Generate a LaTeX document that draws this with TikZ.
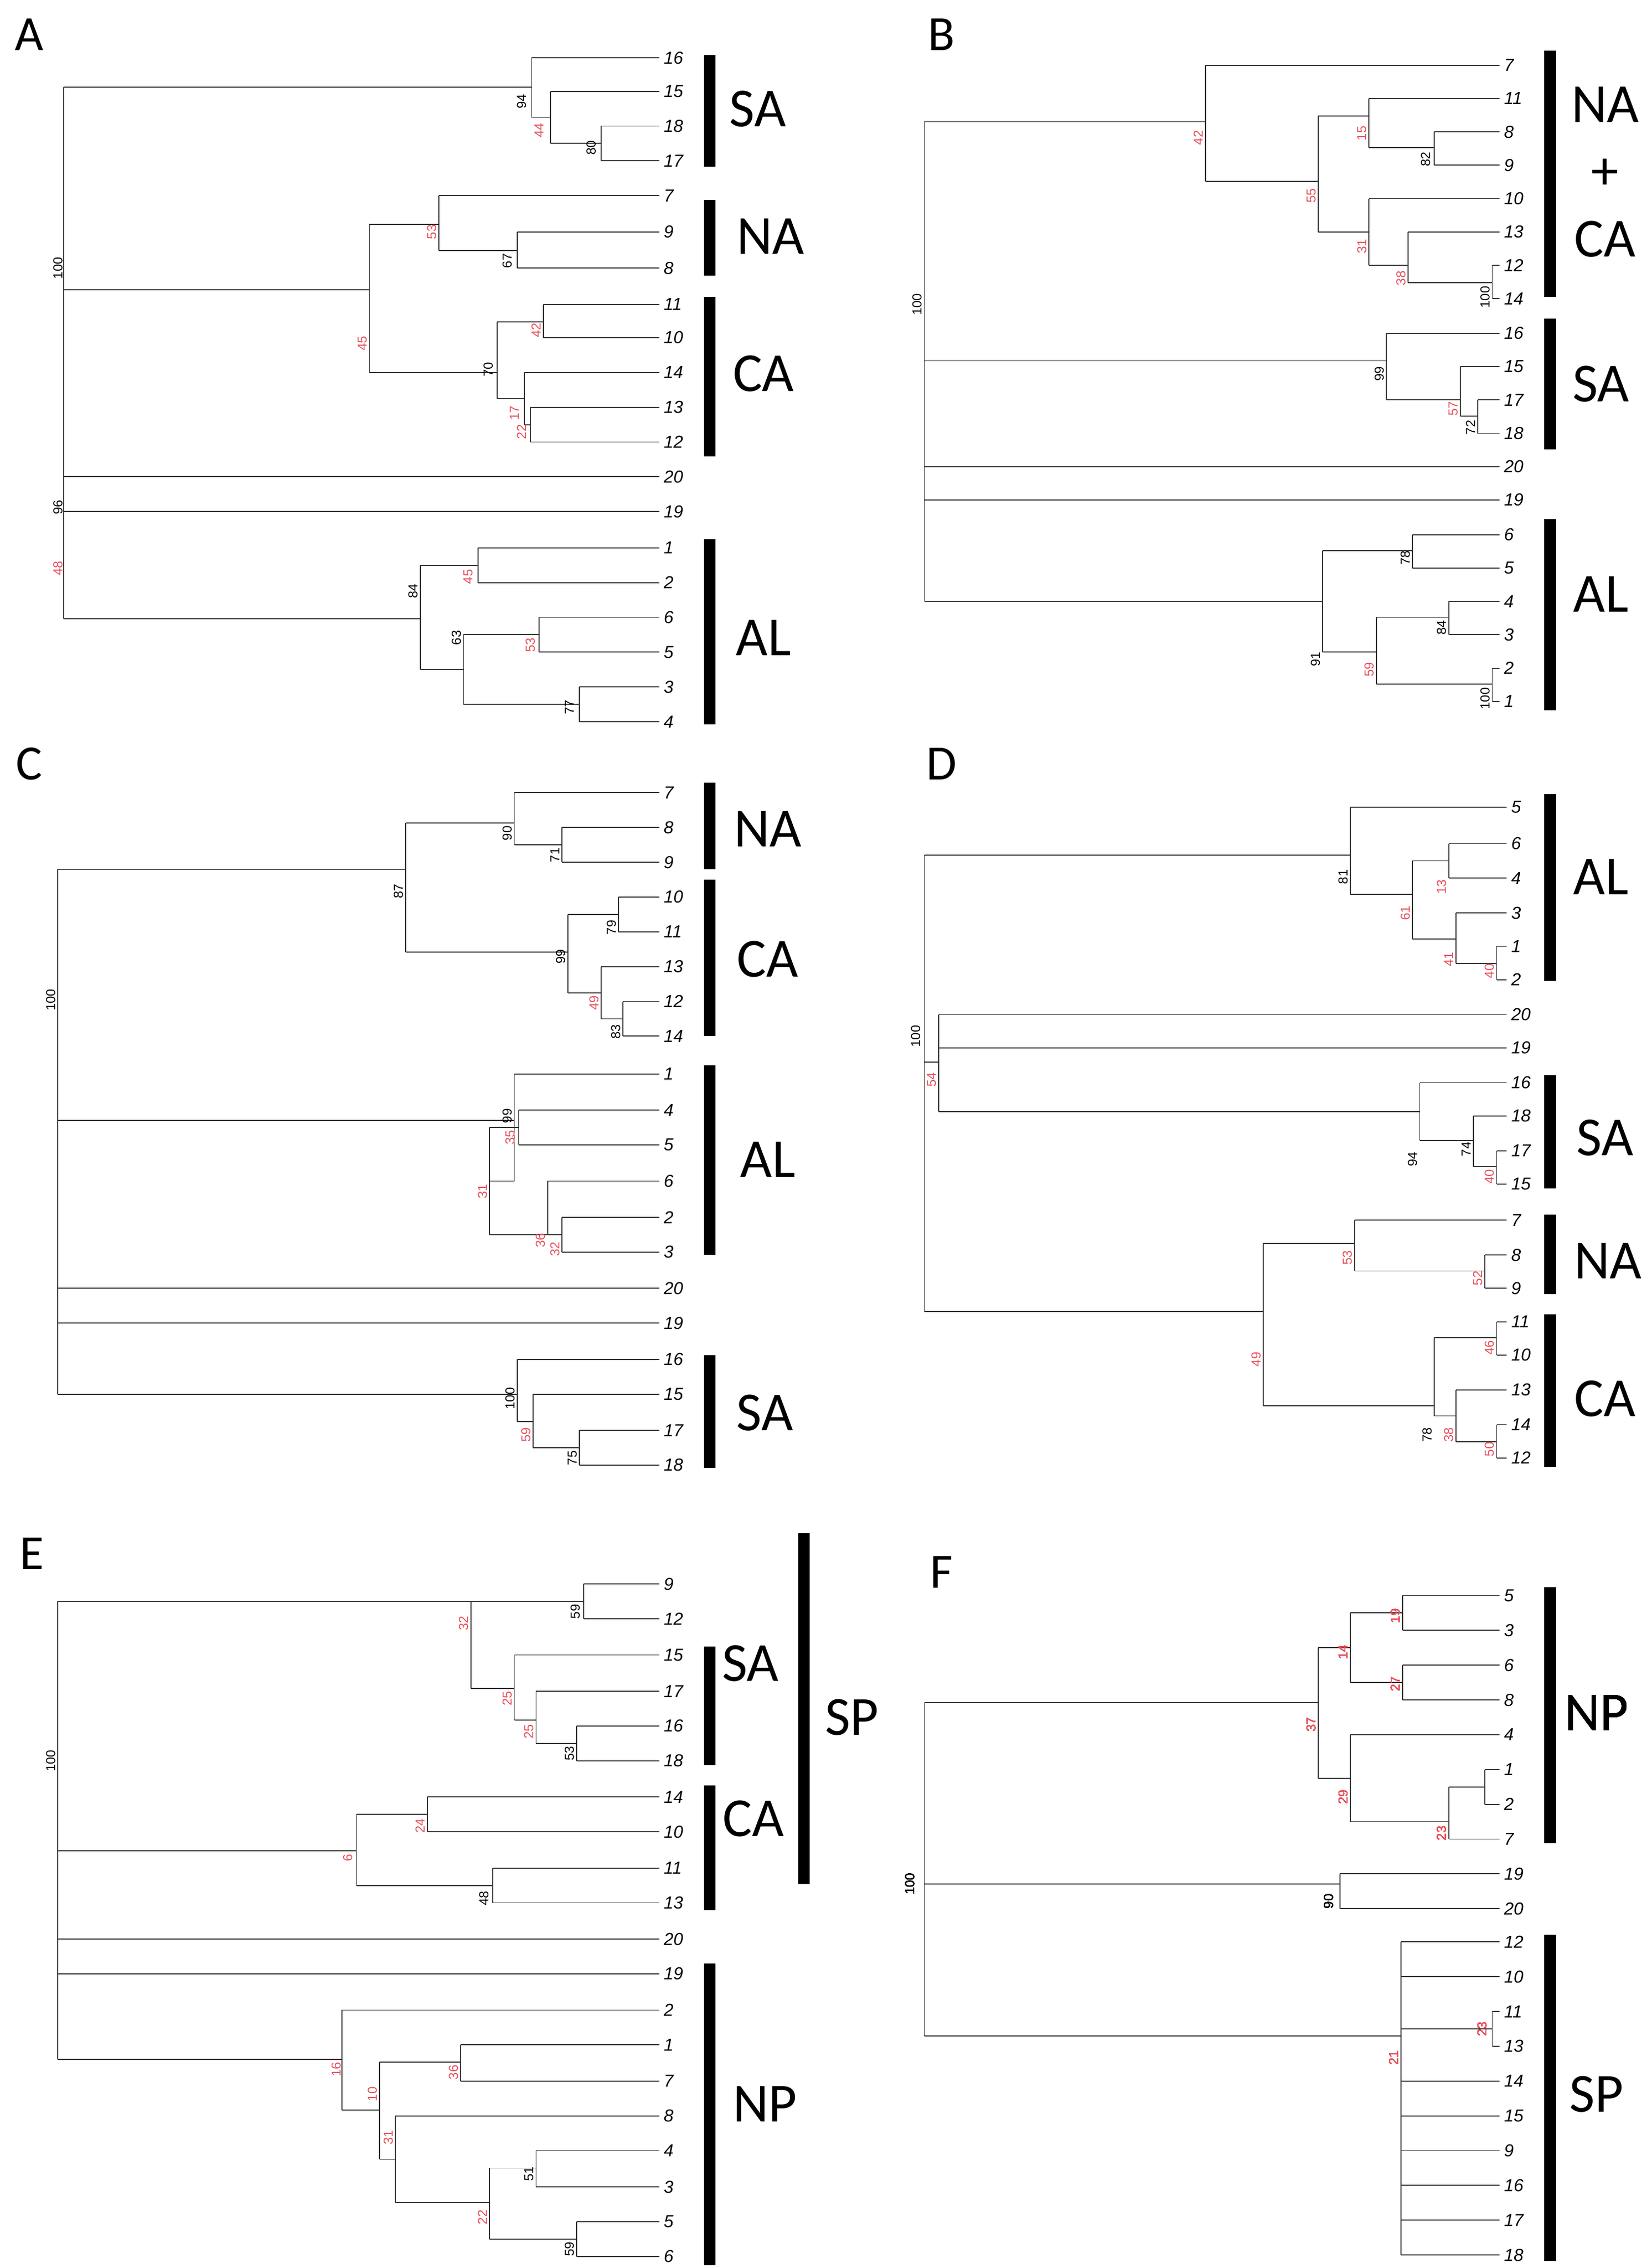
\documentclass[tikz,border=0pt]{standalone}
\usepackage{fontspec}
\setmainfont{Carlito}
\newfontfamily\arl{Liberation Sans}
\definecolor{supRed}{RGB}{232, 80, 90}
\newcommand\vl[3]{\draw[br] (#1,#2) -- (#1,#3);}
\newcommand\hl[3]{\draw[br] (#1,#3) -- (#2,#3);}
\newcommand\bsb[3]{\node[bs] at (#1,#2) {#3};}
\newcommand\bsr[3]{\node[bs, supRed] at (#1,#2) {#3};}
\newcommand\cbar[3]{\fill (#1-4,#2) rectangle (#1+4,#3);}
\tikzset{
  br/.style={line width=0.7pt, gray!40!black},
  leaf/.style={anchor=west, inner sep=1pt, font=\arl\itshape\fontsize{12}{12}\selectfont},
  bs/.style={rotate=90, inner sep=0.5pt, font=\arl\fontsize{9}{9}\selectfont},
  grp/.style={font=\fontsize{38}{38}\selectfont},
  panel/.style={font=\fontsize{34}{34}\selectfont}
}
\begin{document}
\begin{tikzpicture}[x=1pt, y=-1pt]
\useasboundingbox (0,0) rectangle (1140,1565);

\node[panel] (pA) at (20,24) {A};
\node[panel] (pB) at (650,24) {B};
\node[panel] (pC) at (20,527) {C};
\node[panel] (pD) at (650,527) {D};
\node[panel] (pE) at (22,1072) {E};
\node[panel] (pF) at (650,1085) {F};

%%% A
\foreach \y/\l in {40/16,63/15,87/18,111/17,135/7,160/9,185/8,210/11,233/10,257/14,281/13,305/12,329/20,353/19,378/1,402/2,426/6,450/5,474/3,498/4}
  \node[leaf] (a\l) at (457,\y) {\l};
\vl{44}{60}{427} \hl{44}{367}{60} \hl{44}{255}{200} \hl{44}{455}{329} \hl{44}{455}{353} \hl{44}{290}{427}
\vl{367}{40}{81} \hl{367}{455}{40} \hl{367}{380}{81}
\vl{380}{63}{99} \hl{380}{455}{63} \hl{380}{415}{99}
\vl{415}{87}{111} \hl{415}{455}{87} \hl{415}{455}{111}
\vl{255}{155}{257} \hl{255}{303}{155} \hl{255}{343}{257}
\vl{303}{135}{173} \hl{303}{455}{135} \hl{303}{357}{173}
\vl{357}{160}{185} \hl{357}{455}{160} \hl{357}{455}{185}
\vl{343}{222}{275} \hl{343}{375}{222} \hl{343}{362}{275}
\vl{375}{210}{233} \hl{375}{455}{210} \hl{375}{455}{233}
\vl{362}{257}{293} \hl{362}{455}{257} \hl{362}{366}{293}
\vl{366}{281}{305} \hl{366}{455}{281} \hl{366}{455}{305}
\vl{290}{390}{462} \hl{290}{330}{390} \hl{290}{320}{462}
\vl{330}{378}{402} \hl{330}{455}{378} \hl{330}{455}{402}
\vl{320}{438}{486} \hl{320}{372}{438} \hl{320}{400}{486}
\vl{372}{426}{450} \hl{372}{455}{426} \hl{372}{455}{450}
\vl{400}{474}{498} \hl{400}{455}{474} \hl{400}{455}{498}
\bsb{360}{70}{94} \bsr{372}{90}{44} \bsb{408}{102}{80} \bsr{298}{160}{53} \bsb{350}{180}{67}
\bsr{250}{237}{45} \bsr{370}{228}{42} \bsb{337}{255}{70} \bsr{355}{285}{17} \bsr{360}{298}{22}
\bsb{40}{185}{100} \bsb{40}{350}{96} \bsr{40}{392}{48} \bsr{323}{398}{45} \bsb{285}{408}{84}
\bsr{366}{445}{53} \bsb{315}{440}{63} \bsb{393}{488}{77}
\cbar{490}{38}{115} \cbar{490}{138}{190} \cbar{490}{205}{315} \cbar{490}{372}{500}
\node[grp] (gASA) at (523,75) {SA};
\node[grp] (gANA) at (532,163) {NA};
\node[grp] (gACA) at (527,258) {CA};
\node[grp] (gAAL) at (527,440) {AL};

%%% B
\foreach \y/\l in {45/7,68/11,91/8,114/9,137/10,160/13,183/12,206/14,230/16,253/15,276/17,299/18,322/20,345/19,369/6,392/5,415/4,438/3,461/2,484/1}
  \node[leaf] (b\l) at (1037,\y) {\l};
\vl{638}{84}{415} \hl{638}{832}{84} \hl{638}{957}{249} \hl{638}{1035}{322} \hl{638}{1035}{345} \hl{638}{913}{415}
\vl{832}{45}{125} \hl{832}{1035}{45} \hl{832}{910}{125}
\vl{910}{80}{160} \hl{910}{945}{80} \hl{910}{945}{160}
\vl{945}{68}{102} \hl{945}{1035}{68} \hl{945}{990}{102}
\vl{990}{91}{114} \hl{990}{1035}{91} \hl{990}{1035}{114}
\vl{945}{137}{183} \hl{945}{1035}{137} \hl{945}{972}{183}
\vl{972}{160}{195} \hl{972}{1035}{160} \hl{972}{1030}{195}
\vl{1030}{183}{206} \hl{1030}{1035}{183} \hl{1030}{1035}{206}
\vl{957}{230}{276} \hl{957}{1035}{230} \hl{957}{1008}{276}
\vl{1008}{253}{287} \hl{1008}{1035}{253} \hl{1008}{1020}{287}
\vl{1020}{276}{299} \hl{1020}{1035}{276} \hl{1020}{1035}{299}
\vl{913}{380}{450} \hl{913}{975}{380} \hl{913}{950}{450}
\vl{975}{369}{392} \hl{975}{1035}{369} \hl{975}{1035}{392}
\vl{950}{426}{472} \hl{950}{1000}{426} \hl{950}{1030}{472}
\vl{1000}{415}{438} \hl{1000}{1035}{415} \hl{1000}{1035}{438}
\vl{1030}{461}{484} \hl{1030}{1035}{461} \hl{1030}{1035}{484}
\bsr{827}{95}{42} \bsr{905}{135}{55} \bsr{940}{92}{15} \bsb{984}{110}{82} \bsr{940}{170}{31}
\bsr{967}{192}{38} \bsb{1025}{205}{100} \bsb{952}{258}{99} \bsr{1003}{282}{57} \bsb{1015}{295}{72}
\bsb{970}{385}{78} \bsb{995}{433}{84} \bsb{908}{455}{91} \bsr{945}{462}{59} \bsb{1025}{482}{100}
\bsb{633}{210}{100}
\cbar{1070}{35}{205} \cbar{1070}{220}{310} \cbar{1070}{358}{490}
\node[grp] (gBNA) at (1108,72) {NA};
\node[grp] (gBp) at (1108,120) {+};
\node[grp] (gBCA) at (1108,165) {CA};
\node[grp] (gBSA) at (1105,265) {SA};
\node[grp] (gBAL) at (1105,410) {AL};

%%% C
\foreach \y/\l in {547/7,571/8,595/9,619/10,643/11,667/13,691/12,715/14,741/1,766/4,790/5,815/6,840/2,864/3,889/20,913/19,938/16,962/15,987/17,1011/18}
  \node[leaf] (c\l) at (457,\y) {\l};
\vl{40}{600}{962} \hl{40}{280}{600} \hl{40}{355}{773} \hl{40}{455}{889} \hl{40}{455}{913} \hl{40}{357}{962}
\vl{280}{568}{657} \hl{280}{355}{568} \hl{280}{392}{657}
\vl{355}{547}{583} \hl{355}{455}{547} \hl{355}{388}{583}
\vl{388}{571}{595} \hl{388}{455}{571} \hl{388}{455}{595}
\vl{392}{631}{685} \hl{392}{427}{631} \hl{392}{415}{685}
\vl{427}{619}{643} \hl{427}{455}{619} \hl{427}{455}{643}
\vl{415}{667}{703} \hl{415}{455}{667} \hl{415}{430}{703}
\vl{430}{691}{715} \hl{430}{455}{691} \hl{430}{455}{715}
\vl{355}{741}{815} \hl{355}{455}{741} \hl{355}{338}{815}
\vl{338}{778}{852} \hl{338}{358}{778} \hl{338}{378}{852}
\vl{358}{766}{790} \hl{358}{455}{766} \hl{358}{455}{790}
\vl{378}{815}{852} \hl{378}{455}{815} \hl{378}{388}{852}
\vl{388}{840}{864} \hl{388}{455}{840} \hl{388}{455}{864}
\vl{357}{938}{981} \hl{357}{455}{938} \hl{357}{368}{981}
\vl{368}{962}{999} \hl{368}{455}{962} \hl{368}{400}{999}
\vl{400}{987}{1011} \hl{400}{455}{987} \hl{400}{455}{1011}
\bsb{275}{615}{87} \bsb{350}{575}{90} \bsb{383}{590}{71} \bsb{422}{640}{79} \bsb{387}{660}{99}
\bsr{410}{692}{49} \bsb{425}{712}{83} \bsb{350}{770}{99} \bsr{352}{785}{35} \bsr{333}{822}{31}
\bsr{373}{856}{36} \bsr{383}{862}{32} \bsb{35}{690}{100} \bsb{352}{965}{100} \bsr{363}{990}{59}
\bsb{395}{1006}{75}
\cbar{490}{540}{600} \cbar{490}{607}{715} \cbar{490}{735}{866} \cbar{490}{935}{1013}
\node[grp] (gCNA) at (530,572) {NA};
\node[grp] (gCCA) at (530,662) {CA};
\node[grp] (gCAL) at (530,800) {AL};
\node[grp] (gCSA) at (528,975) {SA};

%%% D
\foreach \y/\l in {557/5,582/6,606/4,630/3,653/1,676/2,700/20,723/19,747/16,770/18,794/17,817/15,842/7,866/8,889/9,912/11,935/10,959/13,983/14,1006/12}
  \node[leaf] (d\l) at (1042,\y) {\l};
\vl{638}{590}{905} \hl{638}{932}{590} \hl{638}{648}{733} \hl{638}{872}{905}
\vl{648}{700}{767} \hl{648}{1040}{700} \hl{648}{1040}{723} \hl{648}{980}{767}
\vl{932}{557}{617} \hl{932}{1040}{557} \hl{932}{975}{617}
\vl{975}{594}{648} \hl{975}{1000}{594} \hl{975}{1005}{648}
\vl{1000}{582}{606} \hl{1000}{1040}{582} \hl{1000}{1040}{606}
\vl{1005}{630}{665} \hl{1005}{1040}{630} \hl{1005}{1033}{665}
\vl{1033}{653}{676} \hl{1033}{1040}{653} \hl{1033}{1040}{676}
\vl{980}{747}{787} \hl{980}{1040}{747} \hl{980}{1017}{787}
\vl{1017}{770}{805} \hl{1017}{1040}{770} \hl{1017}{1033}{805}
\vl{1033}{794}{817} \hl{1033}{1040}{794} \hl{1033}{1040}{817}
\vl{872}{858}{970} \hl{872}{935}{858} \hl{872}{990}{970}
\vl{935}{842}{877} \hl{935}{1040}{842} \hl{935}{1025}{877}
\vl{1025}{866}{889} \hl{1025}{1040}{866} \hl{1025}{1040}{889}
\vl{990}{923}{977} \hl{990}{1033}{923} \hl{990}{1005}{977}
\vl{1033}{912}{935} \hl{1033}{1040}{912} \hl{1033}{1040}{935}
\vl{1005}{959}{995} \hl{1005}{1040}{959} \hl{1005}{1033}{995}
\vl{1033}{983}{1006} \hl{1033}{1040}{983} \hl{1033}{1040}{1006}
\bsb{927}{605}{81} \bsr{970}{630}{61} \bsr{995}{612}{13} \bsr{1000}{662}{41} \bsr{1028}{670}{40}
\bsb{632}{715}{100} \bsr{643}{745}{54} \bsb{975}{800}{94} \bsb{1012}{793}{74} \bsr{1028}{812}{40}
\bsr{930}{868}{53} \bsr{1020}{882}{52} \bsr{867}{938}{49} \bsr{1028}{930}{46} \bsb{985}{990}{78}
\bsr{1000}{990}{38} \bsr{1028}{1000}{50}
\cbar{1070}{548}{677} \cbar{1070}{742}{820} \cbar{1070}{838}{893} \cbar{1070}{907}{1012}
\node[grp] (gDAL) at (1105,605) {AL};
\node[grp] (gDSA) at (1108,785) {SA};
\node[grp] (gDNA) at (1110,870) {NA};
\node[grp] (gDCA) at (1108,965) {CA};

%%% E
\foreach \y/\l in {1093/9,1117/12,1142/15,1167/17,1191/16,1215/18,1240/14,1264/10,1289/11,1313/13,1338/20,1362/19,1387/2,1411/1,1436/7,1460/8,1484/4,1509/3,1533/5,1557/6}
  \node[leaf] (e\l) at (457,\y) {\l};
\vl{40}{1105}{1421} \hl{40}{403}{1105} \hl{40}{246}{1277} \hl{40}{455}{1338} \hl{40}{455}{1362} \hl{40}{236}{1421}
\vl{325}{1105}{1165} \hl{325}{355}{1165}
\vl{403}{1093}{1117} \hl{403}{455}{1093} \hl{403}{455}{1117}
\vl{355}{1142}{1187} \hl{355}{455}{1142} \hl{355}{370}{1187}
\vl{370}{1167}{1203} \hl{370}{455}{1167} \hl{370}{398}{1203}
\vl{398}{1191}{1215} \hl{398}{455}{1191} \hl{398}{455}{1215}
\vl{246}{1252}{1301} \hl{246}{295}{1252} \hl{246}{340}{1301}
\vl{295}{1240}{1264} \hl{295}{455}{1240} \hl{295}{455}{1264}
\vl{340}{1289}{1313} \hl{340}{455}{1289} \hl{340}{455}{1313}
\vl{236}{1387}{1456} \hl{236}{455}{1387} \hl{236}{262}{1456}
\vl{262}{1423}{1490} \hl{262}{318}{1423} \hl{262}{273}{1490}
\vl{318}{1411}{1436} \hl{318}{455}{1411} \hl{318}{455}{1436}
\vl{273}{1460}{1520} \hl{273}{455}{1460} \hl{273}{338}{1520}
\vl{338}{1496}{1545} \hl{338}{370}{1496} \hl{338}{398}{1545}
\vl{370}{1484}{1509} \hl{370}{455}{1484} \hl{370}{455}{1509}
\vl{398}{1533}{1557} \hl{398}{455}{1533} \hl{398}{455}{1557}
\bsr{320}{1120}{32} \bsb{397}{1112}{59} \bsr{350}{1172}{25} \bsr{365}{1195}{25} \bsb{393}{1210}{53}
\bsb{35}{1215}{100} \bsr{290}{1260}{24} \bsr{240}{1282}{6} \bsb{334}{1310}{48} \bsr{232}{1428}{16}
\bsr{313}{1430}{36} \bsr{257}{1445}{10} \bsr{268}{1475}{31} \bsr{333}{1530}{22} \bsb{365}{1500}{51}
\bsb{393}{1552}{59}
\cbar{490}{1136}{1218} \cbar{490}{1232}{1318} \cbar{555}{1058}{1300} \cbar{490}{1355}{1563}
\node[grp] (gESA) at (518,1148) {SA};
\node[grp] (gECA) at (520,1255) {CA};
\node[grp] (gESP) at (588,1185) {SP};
\node[grp] (gENP) at (528,1452) {NP};

%%% F
\foreach \y/\l in {1101/5,1125/3,1149/6,1173/8,1197/4,1221/1,1245/2,1269/7,1293/19,1317/20,1340/12,1364/10,1388/11,1412/13,1436/14,1460/15,1484/9,1508/16,1532/17,1556/18}
  \node[leaf] (f\l) at (1037,\y) {\l};
\vl{638}{1175}{1405} \hl{638}{910}{1175} \hl{638}{925}{1300} \hl{638}{967}{1405}
\vl{910}{1137}{1227} \hl{910}{932}{1137} \hl{910}{932}{1227}
\vl{932}{1113}{1161} \hl{932}{968}{1113} \hl{932}{968}{1161}
\vl{968}{1101}{1125} \hl{968}{1035}{1101} \hl{968}{1035}{1125}
\vl{968}{1149}{1173} \hl{968}{1035}{1149} \hl{968}{1035}{1173}
\vl{932}{1197}{1257} \hl{932}{1035}{1197} \hl{932}{1000}{1257}
\vl{1000}{1233}{1269} \hl{1000}{1025}{1233} \hl{1000}{1035}{1269}
\vl{1025}{1221}{1245} \hl{1025}{1035}{1221} \hl{1025}{1035}{1245}
\vl{925}{1293}{1317} \hl{925}{1035}{1293} \hl{925}{1035}{1317}
\vl{967}{1340}{1556}
\foreach \y in {1340,1364,1436,1460,1484,1508,1532,1556} \hl{967}{1035}{\y}
\hl{967}{1030}{1400}
\vl{1030}{1388}{1412} \hl{1030}{1035}{1388} \hl{1030}{1035}{1412}
\bsr{905}{1190}{37} \bsr{927}{1140}{14} \bsr{963}{1115}{19} \bsr{963}{1162}{27} \bsr{927}{1240}{29}
\bsr{995}{1265}{23} \bsb{628}{1300}{100} \bsb{917}{1312}{90} \bsr{962}{1420}{21} \bsr{1023}{1400}{23}
\cbar{1070}{1095}{1272} \cbar{1070}{1335}{1560}
\node[grp] (gFNP) at (1102,1182) {NP};
\node[grp] (gFSP) at (1102,1445) {SP};

\end{tikzpicture}
\end{document}
